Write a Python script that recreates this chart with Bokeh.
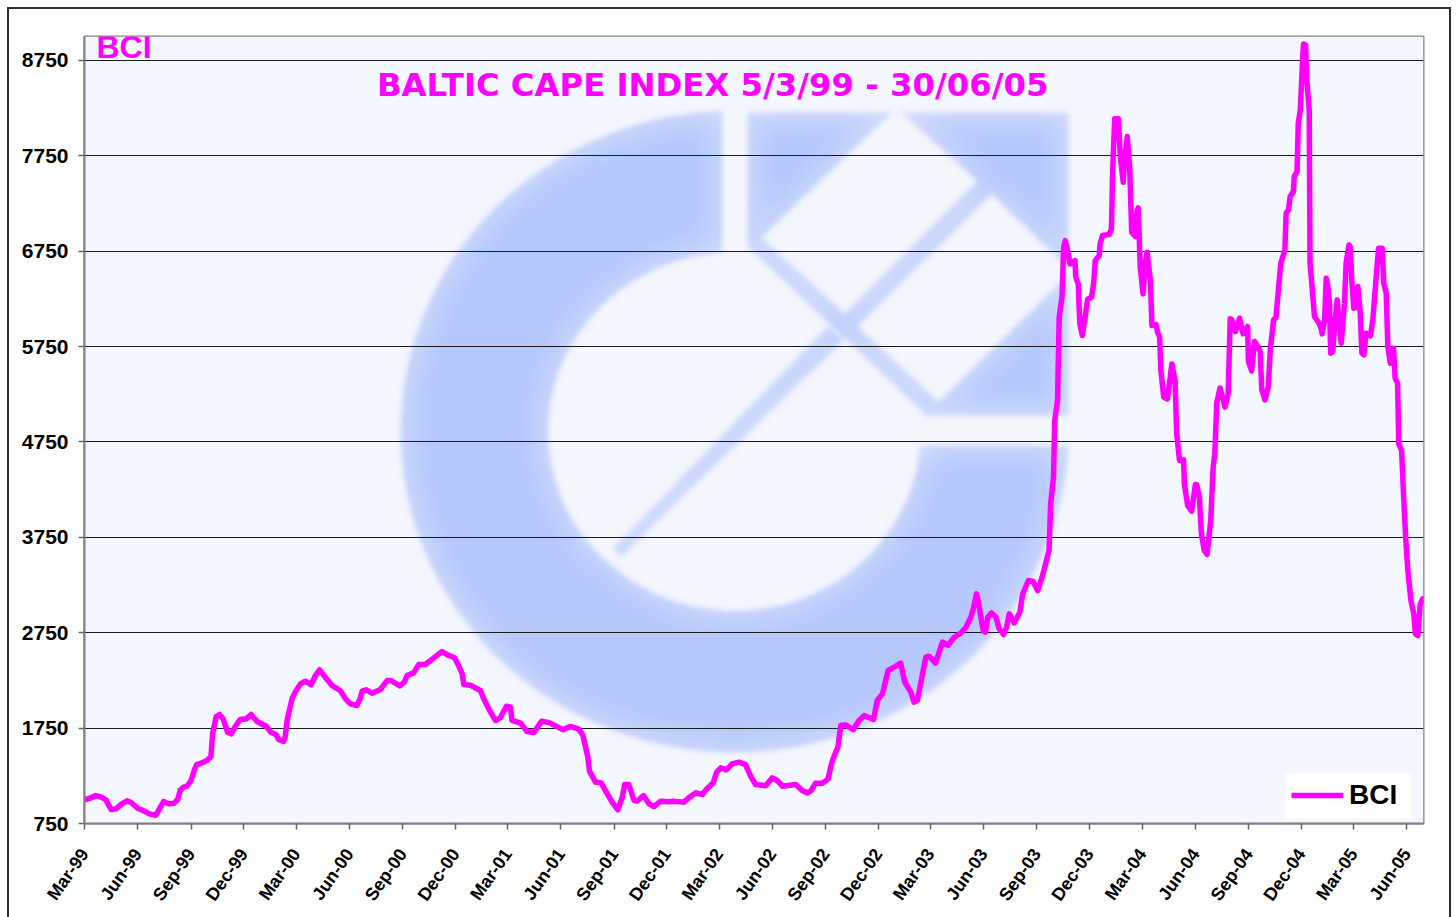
import math
import numpy as np
import pandas as pd
from bokeh.embed import file_html
from bokeh.resources import INLINE
from bokeh.plotting import figure
from bokeh.models import BoxAnnotation, FixedTicker, Label, Legend, LegendItem, Range1d

START = "1999-03-05"
END_WEEK = 330.4

tick_labels = ["Mar-99","Jun-99","Sep-99","Dec-99","Mar-00","Jun-00","Sep-00","Dec-00",
               "Mar-01","Jun-01","Sep-01","Dec-01","Mar-02","Jun-02","Sep-02","Dec-02",
               "Mar-03","Jun-03","Sep-03","Dec-03","Mar-04","Jun-04","Sep-04","Dec-04",
               "Mar-05","Jun-05"]
y_ticks = [750, 1750, 2750, 3750, 4750, 5750, 6750, 7750, 8750]

bci_week = [0,1.4,2.8,4.1,5.3,6.1,6.6,7.8,9.2,10.5,11.5,13.2,14.6,16,17.6,18.5,19.5,20.7,22.1,23,23.6,24.4,25.3,26.3,27.2,27.7,29,30.2,31.2,31.6,32.5,33.3,34.2,35.3,36.2,37.2,38.4,39.9,41.1,42.6,44.9,46,47.3,47.9,49.1,49.5,50,51.2,52,53.3,54.5,55.9,57,58,59.4,61.1,63.1,64.4,65.6,67.2,68,68.5,69.5,70.9,73,74.7,75.6,77.8,78.9,79.6,81.2,82.5,84.1,86.2,88.2,89.9,91.3,92.3,93.2,93.6,95.2,97.7,
            98.5,100.2,101.4,102.6,104.1,105.1,105.5,107.6,109.2,110.9,112.8,114.8,118.1,119.8,122,123,124.2,124.6,126.1,127.5,128.6,130.2,131.6,132.7,133.3,134.3,135.6,136.4,137.9,139.3,140.5,142.2,144.2,145.4,147.9,149.1,150.8,152.4,153.7,155.1,156,157,158.4,159.8,161.5,163.1,164.5,165.6,168.1,169.7,170.9,172.2,175.5,177.1,178.4,179.3,180.4,182.1,183.5,184.1,184.8,185.9,186.6,187.8,189.7,191.1,192.4,194.7,195.6,196.9,198.3,199.8,201.4,202.4,203.9,204.7,205.5,206.8,207.6,208.4,210,211.7,213.1,
            214.6,216.3,217.5,218.7,219.4,220.1,220.5,221.2,221.8,222.3,222.9,223.8,224.9,225.7,226.8,227.5,228.2,229.4,230.8,231.5,232.9,234,235.2,236.4,
            238,238.4,239.1,239.4,240.1,240.5,241.2,241.6,242,242.4,243.2,244.4,244.6,245.2,245.6,246.2,246.9,247.5,248.5,249,249.4,250.4,250.6,251.2,252.8,253.4,253.7,254.2,255.1,255.6,256.3,256.7,257.3,257.9,258.4,259.3,259.7,260,260.5,261.2,261.7,262.2,263,263.4,264.4,264.8,265.3,265.6,266.3,267.2,267.8,268.3,269.1,269.5,270.2,271.2,271.4,272.2,273.2,274.1,274.4,275.1,275.6,276.3,277,277.9,278.5,278.9,279.4,280.2,281.4,282.2,282.7,
            283.1,284,285,285.9,287,287.2,288,288.7,289.5,290.1,290.5,291.3,292.1,292.6,293.4,294,294.7,295.2,296.2,296.5,297.1,297.5,298.3,298.5,299.2,299.5,300,300.6,300.8,301.3,301.6,302.2,302.4,302.9,303.5,304.5,305,305.4,306,306.4,306.8,307.2,307.5,308,308.4,309.1,309.5,310.1,310.9,311.3,312,312.3,312.7,313.2,313.8,314.2,314.8,315.2,315.7,316.2,317.3,317.9,318.7,319.3,320.2,320.6,321.2,321.6,322.2,323,323.4,324,324.3,325,325.5,326,326.5,327.3,328,328.4,329,329.6,330.2,330.4]

bci_value = [998,1016,1043,1026,998,932,897,904,956,988,970,907,883,851,837,904,981,956,963,1002,1096,1131,1141,1201,1323,1368,1386,1410,1452,1690,1872,1893,1847,1707,1690,1767,1840,1847,1893,1819,1767,1707,1679,1630,1609,1655,1830,2057,2127,2214,2242,2204,2301,2361,2284,2196,2144,2057,2004,1987,2057,2137,2151,2116,2155,2249,2249,2193,2231,2301,2329,2417,2417,2487,2553,2511,2487,2406,2319,2207,2200,2144,
             2057,1917,1830,1858,1980,1969,1830,1802,1714,1704,1823,1805,1732,1767,1739,1672,1445,1299,1183,1176,1089,974,893,1026,1159,1159,991,984,1043,956,928,984,977,984,974,1019,1071,1054,1120,1173,1288,1333,1313,1375,1393,1368,1236,1159,1145,1229,1201,1141,1159,1096,1071,1096,1173,1173,1218,1340,1438,1550,1777,1784,1735,1830,1882,1840,2039,2109,2354,2389,2431,2231,2127,2022,2039,2319,2494,2504,2431,2651,2616,
             2703,2749,2808,2913,3018,3157,3087,2913,2766,2756,2913,2958,2913,2790,2731,2808,2948,2853,2965,3157,3297,3290,3192,3350,
             3612,4101,4380,4974,5184,6057,6267,6791,6861,6791,6616,6651,6477,6407,5987,5865,6057,6243,6267,6407,6651,6704,6826,6913,6924,6983,7595,8137,8137,7735,7472,7735,7951,7630,6948,6903,7175,7203,6581,6302,6616,6739,6442,5970,5980,5900,5848,5498,5219,5201,5393,5568,5393,4834,4555,4562,4310,4083,4024,4303,4303,4171,3786,3612,3570,3926,4485,4625,5166,5316,5114,5254,6040,
             6029,5907,6047,5883,5960,5593,5495,5802,5750,5697,5296,5191,5331,5715,6029,6054,6396,6624,6763,7148,7183,7323,7375,7532,7584,8091,8231,8790,8922,8912,8545,8231,6623,6379,6064,6001,5960,5883,6029,6466,6379,6204,5680,5697,5925,6239,6029,5785,6204,6624,6815,6798,6449,6152,6169,6379,6099,5680,5663,5890,5862,6029,6466,6781,6781,6414,6309,5750,5575,5732,5418,5366,4730,4660,4170,3751,3419,3087,2948,2738,2720,3052,3105,3100]

assert len(bci_week) == len(bci_value)

MAGENTA = "#FF00FF"
FONT = "Liberation Sans"
start = pd.Timestamp(START)
days = [w * 7 for w in bci_week]

month_no = {"Mar": 3, "Jun": 6, "Sep": 9, "Dec": 12}
tick_days = [(pd.Timestamp(2000 + int(t[4:]) if int(t[4:]) < 50 else 1900 + int(t[4:]), month_no[t[:3]], 5) - start).days
             for t in tick_labels]

# Sheet frame behind the canvas: left, top and right rules (the bottom one lies below the page)
rule = "linear-gradient(#2e2e2e,#2e2e2e)"
sheet = (f"{rule} 7px 7px/2px 100% no-repeat, {rule} 7px 7px/1444px 2px no-repeat, "
         f"{rule} 1449px 7px/2px 100% no-repeat, white")

p = figure(width=1456, height=917, output_backend="svg", toolbar_location=None,
           x_range=Range1d(0, END_WEEK * 7), y_range=Range1d(750, 9000),
           min_border_left=84, min_border_right=33, min_border_top=36, min_border_bottom=94,
           background_fill_color="#F4F7FE", border_fill_color=None,
           outline_line_color="#808080", outline_line_width=2,
           styles={"background": sheet})

# Background logo watermark (soft raster, page pixel geometry of the picture behind the chart)
FL, FT, FW, FH = 84, 36, 1339, 787
X, Y = np.meshgrid(np.arange(FW) + FL + 0.5, np.arange(FH) + FT + 0.5)

def convex(pts):
    m = np.ones_like(X, dtype=bool)
    n = len(pts)
    for i in range(n):
        x0, y0 = pts[i]
        x1, y1 = pts[(i + 1) % n]
        m &= ((x1 - x0) * (Y - y0) - (y1 - y0) * (X - x0)) >= 0
    return m

ring = (((X - 734) / 334) ** 2 + ((Y - 431) / 321) ** 2 < 1) & (((X - 734) / 186) ** 2 + ((Y - 431) / 179) ** 2 > 1)
ring &= ~((X > 722) & (Y < 445))
square = convex([(747, 112), (1068, 112), (1068, 415), (926, 415), (747, 246)])
square &= ~convex([(896, 108), (977, 181), (844, 313), (761, 237)])
square &= ~convex([(991, 194), (1071, 271), (938, 401), (857, 326)])
stripe = convex([(827, 326), (844, 339), (621, 556), (612, 548)])
mask = (ring | square | stripe).astype(float)

def blur(a, r):
    for axis in (0, 1):
        c = np.cumsum(np.insert(a, 0, 0, axis=axis), axis=axis)
        n = a.shape[axis]
        lo = np.clip(np.arange(n) - r, 0, n)
        hi = np.clip(np.arange(n) + r + 1, 0, n)
        if axis == 0:
            a = (c[hi, :] - c[lo, :]) / (2 * r + 1)
        else:
            a = (c[:, hi] - c[:, lo]) / (2 * r + 1)
    return a

soft = blur(blur(mask, 3), 2)
core = blur(blur(mask, 24), 14)
shade = soft * (0.52 + 0.48 * core ** 1.5)
bg = np.array([0xF4, 0xF7, 0xFE], dtype=float)
fg = np.array([0xB6, 0xC8, 0xFC], dtype=float)
rgba = np.zeros((FH, FW, 4), dtype=np.uint8)
for k in range(3):
    rgba[..., k] = np.clip(bg[k] + shade * (fg[k] - bg[k]), 0, 255).astype(np.uint8)
rgba[..., 3] = 255
img = rgba.view(dtype=np.uint32).reshape(FH, FW)[::-1]
p.image_rgba(image=[img], x=0, y=750, dw=END_WEEK * 7, dh=8250, level="image")

# Grid and axes
p.xgrid.visible = False
p.ygrid.ticker = FixedTicker(ticks=y_ticks)
p.ygrid.grid_line_color = "#1a1a1a"
p.ygrid.grid_line_width = 1

p.yaxis.ticker = FixedTicker(ticks=y_ticks)
p.xaxis.ticker = FixedTicker(ticks=tick_days)
p.xaxis.major_label_overrides = {d: t for d, t in zip(tick_days, tick_labels)}
p.xaxis.major_label_orientation = math.radians(55)
for ax, size in ((p.xaxis, "18px"), (p.yaxis, "21px")):
    ax.axis_line_color = "#808080"
    ax.axis_line_width = 2
    ax.major_tick_line_color = "#666666"
    ax.major_tick_line_width = 1.5
    ax.major_tick_in = 0
    ax.major_tick_out = 6
    ax.minor_tick_line_color = None
    ax.major_label_text_font = FONT
    ax.major_label_text_font_style = "bold"
    ax.major_label_text_font_size = size
    ax.major_label_text_color = "black"
p.xaxis.major_label_standoff = 21
p.yaxis.major_label_standoff = 10

line = p.line(days, bci_value, line_color=MAGENTA, line_width=5.5, line_join="round")

p.add_layout(BoxAnnotation(left=1285, right=1411, top=773, bottom=818,
                           left_units="canvas", right_units="canvas",
                           top_units="canvas", bottom_units="canvas",
                           fill_color="white", fill_alpha=1, line_color=None))
legend = Legend(items=[LegendItem(label="BCI", renderers=[line])],
                location=(1207, 12), orientation="vertical",
                background_fill_alpha=0, border_line_color=None,
                glyph_width=52, glyph_height=26, label_standoff=6, padding=10, margin=0, spacing=0,
                label_text_font=FONT, label_text_font_style="bold", label_text_font_size="28px",
                label_text_color="black")
p.add_layout(legend, "center")

p.add_layout(Label(x=292.5, y=739, x_units="screen", y_units="screen",
                   text="BALTIC CAPE INDEX 5/3/99 - 30/06/05", text_color=MAGENTA,
                   text_font="DejaVu Sans", text_font_style="bold", text_font_size="32.3px",
                   text_baseline="alphabetic"))
p.add_layout(Label(x=12, y=777, x_units="screen", y_units="screen",
                   text="BCI", text_color=MAGENTA,
                   text_font=FONT, text_font_style="bold", text_font_size="32px",
                   text_baseline="alphabetic"))

open("out.html", "w").write(file_html(p, INLINE))
